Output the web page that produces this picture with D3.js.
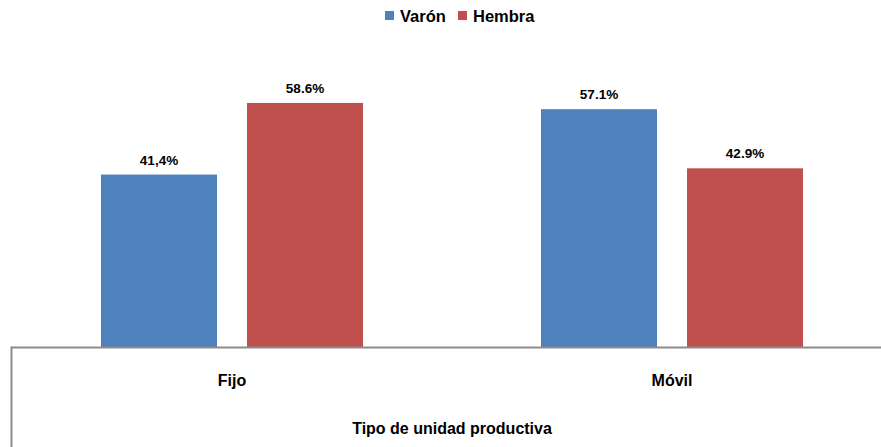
<!DOCTYPE html>
<html><head><meta charset="utf-8">
<script src="https://cdn.jsdelivr.net/npm/d3@7"></script>
<style>body{margin:0;background:#fff}svg{display:block}text{font-family:"Liberation Sans",Arial,sans-serif;font-weight:bold;fill:#000}</style>
</head><body><svg id="c" width="881" height="447"></svg>
<script>
const categories = ["Fijo", "Móvil"];
const seriesNames = ["Varón", "Hembra"];
const varonValues = [41.4, 57.1];
const hembraValues = [58.6, 42.9];
const varonLabels = ["41,4%", "57.1%"];
const hembraLabels = ["58.6%", "42.9%"];
const colors = ["#4F81BD", "#C0504D"];
const axisTitle = "Tipo de unidad productiva";

const svg = d3.select("#c");
const baseY = 347, left = 11, right = 891;
const x0 = d3.scaleBand().domain(categories).range([left, right]).paddingInner(0).paddingOuter(0);
const x1 = d3.scaleBand().domain(seriesNames).range([90, 90+262]).paddingInner(30/146).paddingOuter(0);
const y = d3.scaleLinear().domain([0, 70]).range([baseY, baseY - 70*4.165]);

const data = [];
categories.forEach((c,i)=>{
  data.push({c, s: seriesNames[0], v: varonValues[i], l: varonLabels[i], col: colors[0]});
  data.push({c, s: seriesNames[1], v: hembraValues[i], l: hembraLabels[i], col: colors[1]});
});

svg.selectAll("rect.bar").data(data).join("rect").attr("class","bar")
  .attr("x", d=>x0(d.c)+x1(d.s)).attr("width", x1.bandwidth())
  .attr("y", d=>y(d.v)).attr("height", d=>y(0)-y(d.v)).attr("fill", d=>d.col);

svg.selectAll("text.lbl").data(data).join("text").attr("class","lbl")
  .attr("x", d=>x0(d.c)+x1(d.s)+x1.bandwidth()/2).attr("y", d=>y(d.v)-10)
  .attr("text-anchor","middle").attr("font-size",13.5).text(d=>d.l);

// axis lines
svg.append("line").attr("x1",left).attr("x2",881).attr("y1",baseY+0.5).attr("y2",baseY+0.5).attr("stroke","#8c8c8c").attr("stroke-width",2);
svg.append("line").attr("x1",left+0.5).attr("x2",left+0.5).attr("y1",baseY-0.5).attr("y2",447).attr("stroke","#8c8c8c").attr("stroke-width",2);

svg.selectAll("text.cat").data(categories).join("text").attr("class","cat")
  .attr("x", d=>x0(d)+x0.bandwidth()/2+1).attr("y", 386).attr("text-anchor","middle").attr("font-size",16).text(d=>d);

svg.append("text").attr("x",(left+right)/2+1).attr("y",434).attr("text-anchor","middle").attr("font-size",16).text(axisTitle);

// legend
const lg = svg.append("g");
const legX = [385, 458];
seriesNames.forEach((s,i)=>{
  lg.append("rect").attr("x",legX[i]).attr("y",11).attr("width",9).attr("height",9).attr("fill",colors[i]);
  lg.append("text").attr("x",legX[i]+15).attr("y",22).attr("font-size",16.5).text(s);
});
</script></body></html>
